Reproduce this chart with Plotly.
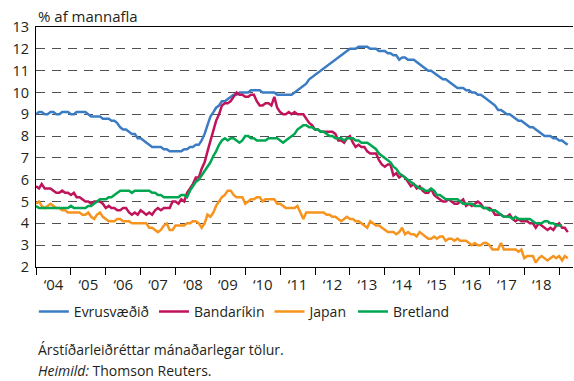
import pandas as pd
import plotly.graph_objects as go

# Monthly unemployment rates, % of labour force (seasonally adjusted)
evrusvaedid = [
    9.0, 9.1, 9.1, 9.0, 9.0, 9.1, 9.1, 9.0, 9.0, 9.1, 9.1, 9.1,      # 2004
    9.0, 9.0, 9.1, 9.1, 9.1, 9.1, 9.0, 8.9, 8.9, 8.9, 8.9, 8.8,      # 2005
    8.8, 8.8, 8.7, 8.7, 8.6, 8.4, 8.3, 8.3, 8.2, 8.1, 8.1, 7.9,      # 2006
    7.9, 7.8, 7.7, 7.6, 7.5, 7.5, 7.5, 7.5, 7.4, 7.4, 7.3, 7.3,      # 2007
    7.3, 7.3, 7.3, 7.4, 7.4, 7.5, 7.5, 7.6, 7.6, 7.8, 8.1, 8.5,      # 2008
    8.9, 9.1, 9.3, 9.4, 9.6, 9.6, 9.7, 9.8, 9.9, 9.9, 10.0, 10.0,    # 2009
    10.0, 10.0, 10.1, 10.1, 10.1, 10.1, 10.0, 10.0, 10.0, 10.0, 10.0, 9.9,  # 2010
    9.9, 9.9, 9.9, 9.9, 9.9, 10.0, 10.1, 10.2, 10.3, 10.4, 10.6, 10.7,      # 2011
    10.8, 10.9, 11.0, 11.1, 11.2, 11.3, 11.4, 11.5, 11.6, 11.7, 11.8, 11.9, # 2012
    12.0, 12.0, 12.0, 12.1, 12.1, 12.1, 12.1, 12.0, 12.0, 12.0, 11.9, 11.9, # 2013
    11.9, 11.8, 11.8, 11.7, 11.7, 11.5, 11.6, 11.6, 11.5, 11.5, 11.5, 11.4, # 2014
    11.3, 11.2, 11.1, 11.0, 11.0, 10.9, 10.8, 10.7, 10.6, 10.6, 10.5, 10.4, # 2015
    10.3, 10.2, 10.2, 10.2, 10.1, 10.1, 10.0, 10.0, 9.9, 9.9, 9.8, 9.7,     # 2016
    9.6, 9.5, 9.4, 9.2, 9.2, 9.1, 9.0, 9.0, 8.9, 8.8, 8.7, 8.7,      # 2017
    8.6, 8.5, 8.4, 8.4, 8.3, 8.2, 8.1, 8.0, 8.0, 8.0, 7.9, 7.9,      # 2018
    7.8, 7.8, 7.7, 7.6,                                              # 2019
]

bandarikin = [
    5.7, 5.6, 5.8, 5.6, 5.6, 5.6, 5.5, 5.4, 5.4, 5.5, 5.4, 5.4,
    5.3, 5.4, 5.2, 5.2, 5.1, 5.0, 5.0, 4.9, 5.0, 5.0, 5.0, 4.9,
    4.7, 4.8, 4.7, 4.7, 4.6, 4.6, 4.7, 4.7, 4.5, 4.4, 4.5, 4.4,
    4.6, 4.5, 4.4, 4.5, 4.4, 4.6, 4.7, 4.6, 4.7, 4.7, 4.7, 5.0,
    5.0, 4.9, 5.1, 5.0, 5.4, 5.6, 5.8, 6.1, 6.1, 6.5, 6.8, 7.3,
    7.8, 8.3, 8.7, 9.0, 9.4, 9.5, 9.5, 9.6, 9.8, 10.0, 9.9, 9.9,
    9.8, 9.8, 9.9, 9.9, 9.6, 9.4, 9.4, 9.5, 9.5, 9.4, 9.8, 9.3,
    9.1, 9.0, 9.0, 9.1, 9.0, 9.1, 9.0, 9.0, 9.0, 8.8, 8.6, 8.5,
    8.3, 8.3, 8.2, 8.2, 8.2, 8.2, 8.2, 8.1, 7.8, 7.8, 7.7, 7.9,
    8.0, 7.7, 7.5, 7.6, 7.5, 7.5, 7.3, 7.2, 7.2, 7.2, 6.9, 6.7,
    6.6, 6.7, 6.7, 6.2, 6.3, 6.1, 6.2, 6.1, 5.9, 5.7, 5.8, 5.6,
    5.7, 5.5, 5.4, 5.4, 5.6, 5.3, 5.2, 5.1, 5.0, 5.0, 5.1, 5.0,
    4.9, 4.9, 5.0, 5.1, 4.8, 4.9, 4.8, 4.9, 5.0, 4.9, 4.7, 4.7,
    4.7, 4.6, 4.4, 4.4, 4.4, 4.3, 4.3, 4.4, 4.2, 4.1, 4.2, 4.1,
    4.1, 4.1, 4.0, 4.0, 3.8, 4.0, 3.9, 3.8, 3.7, 3.8, 3.7, 3.9,
    4.0, 3.8, 3.8, 3.6,
]

japan = [
    4.9, 5.0, 4.8, 4.7, 4.8, 4.9, 4.8, 4.7, 4.7, 4.6, 4.6, 4.5,
    4.5, 4.5, 4.5, 4.5, 4.4, 4.4, 4.5, 4.3, 4.2, 4.4, 4.5, 4.3,
    4.2, 4.1, 4.1, 4.1, 4.2, 4.2, 4.1, 4.1, 4.1, 4.0, 4.0, 4.0,
    4.0, 4.0, 4.0, 3.8, 3.8, 3.7, 3.6, 3.7, 3.9, 4.0, 3.7, 3.7,
    3.9, 3.9, 3.9, 3.9, 4.0, 4.0, 4.1, 4.1, 4.0, 3.8, 4.0, 4.4,
    4.3, 4.5, 4.8, 5.0, 5.2, 5.3, 5.5, 5.5, 5.3, 5.2, 5.2, 5.2,
    4.9, 5.0, 5.1, 5.1, 5.2, 5.2, 5.0, 5.1, 5.1, 5.1, 5.1, 4.9,
    4.9, 4.8, 4.7, 4.7, 4.7, 4.7, 4.8, 4.5, 4.2, 4.5, 4.5, 4.5,
    4.5, 4.5, 4.5, 4.5, 4.4, 4.4, 4.3, 4.3, 4.2, 4.1, 4.2, 4.3,
    4.2, 4.2, 4.1, 4.1, 4.0, 3.9, 3.8, 4.1, 4.0, 3.9, 3.9, 3.8,
    3.7, 3.6, 3.6, 3.6, 3.5, 3.6, 3.8, 3.5, 3.6, 3.5, 3.5, 3.4,
    3.6, 3.5, 3.4, 3.3, 3.3, 3.4, 3.3, 3.4, 3.4, 3.2, 3.3, 3.3,
    3.2, 3.3, 3.2, 3.2, 3.2, 3.1, 3.0, 3.1, 3.0, 3.0, 3.1, 3.1,
    3.0, 2.8, 2.8, 2.8, 3.1, 2.8, 2.8, 2.8, 2.8, 2.8, 2.7, 2.8,
    2.4, 2.5, 2.5, 2.5, 2.2, 2.4, 2.5, 2.4, 2.3, 2.4, 2.5, 2.4,
    2.5, 2.3, 2.5, 2.4,
]

bretland = [
    4.8, 4.7, 4.7, 4.7, 4.7, 4.7, 4.7, 4.7, 4.7, 4.7, 4.7, 4.7,
    4.8, 4.7, 4.7, 4.7, 4.7, 4.7, 4.8, 4.8, 4.9, 5.0, 5.1, 5.1,
    5.1, 5.2, 5.2, 5.3, 5.4, 5.5, 5.5, 5.5, 5.5, 5.4, 5.5, 5.5,
    5.5, 5.5, 5.5, 5.5, 5.4, 5.4, 5.3, 5.3, 5.2, 5.2, 5.2, 5.2,
    5.2, 5.2, 5.3, 5.3, 5.2, 5.5, 5.7, 5.9, 6.0, 6.2, 6.4, 6.6,
    6.8, 7.1, 7.3, 7.6, 7.8, 7.9, 7.8, 7.9, 7.9, 7.8, 7.7, 7.8,
    8.0, 8.0, 7.9, 7.9, 7.8, 7.8, 7.8, 7.8, 7.9, 7.9, 7.9, 7.9,
    7.8, 7.7, 7.8, 7.9, 8.0, 8.1, 8.3, 8.4, 8.5, 8.5, 8.4, 8.4,
    8.3, 8.3, 8.2, 8.2, 8.1, 8.0, 8.0, 7.9, 7.9, 7.9, 7.8, 7.9,
    7.9, 7.9, 7.8, 7.8, 7.7, 7.7, 7.7, 7.6, 7.5, 7.4, 7.2, 7.1,
    7.0, 6.9, 6.8, 6.6, 6.5, 6.3, 6.2, 6.1, 6.0, 5.9, 5.8, 5.7,
    5.6, 5.6, 5.5, 5.5, 5.6, 5.5, 5.3, 5.3, 5.2, 5.1, 5.1, 5.1,
    5.1, 5.1, 5.0, 4.9, 4.9, 4.9, 4.9, 4.8, 4.8, 4.8, 4.7, 4.7,
    4.6, 4.6, 4.6, 4.5, 4.4, 4.3, 4.3, 4.3, 4.2, 4.3, 4.2, 4.2,
    4.2, 4.2, 4.2, 4.1, 4.0, 4.0, 4.0, 4.1, 4.1, 4.0, 4.0, 3.9,
    3.9, 3.9,
]

series_names = ["Evrusvæðið", "Bandaríkin", "Japan", "Bretland"]
series_values = [evrusvaedid, bandarikin, japan, bretland]
series_colors = ["#3b7cc4", "#c0135a", "#f7941d", "#00a650"]

FONT = "Open Sans"
TEXT = "#231f20"

fig = go.Figure()
for name, vals, col in zip(series_names, series_values, series_colors):
    dates = pd.date_range("2004-01-01", periods=len(vals), freq="MS")
    fig.add_trace(go.Scatter(
        x=dates, y=vals, name=name, mode="lines",
        line=dict(color=col, width=2.5),
    ))

fig.update_layout(
    width=574, height=381,
    margin=dict(l=36, r=1, t=27, b=114),
    plot_bgcolor="white", paper_bgcolor="white",
    font=dict(family=FONT, size=14, color=TEXT),
    showlegend=True,
    legend=dict(
        orientation="h", x=-0.004, xanchor="left", y=-0.12, yanchor="top",
        font=dict(size=14, color=TEXT), itemwidth=30, tracegroupgap=0,
        bgcolor="rgba(0,0,0,0)",
    ),
)

# Yearly ticks at each January, with the two-digit year centred on its year
fig.update_xaxes(
    type="date",
    range=["2004-01-01", "2019-05-26"],
    tickmode="linear", tick0="2004-01-01", dtick="M12",
    tickformat="‘%y", ticklabelmode="period",
    ticks="outside", ticklen=7, tickwidth=1, tickcolor="black",
    ticklabelstandoff=-3,
    showline=True, linecolor="black", linewidth=1, mirror=True,
    showgrid=False, zeroline=False,
    tickfont=dict(size=15, color=TEXT),
)

fig.update_yaxes(
    range=[2, 13], dtick=1, tick0=2,
    showline=True, linecolor="black", linewidth=1,
    ticks="", showgrid=True, gridcolor="#505050", gridwidth=1,
    griddash="9px,7px", zeroline=False,
    ticklabelstandoff=3,
    tickfont=dict(size=14.5, color=TEXT),
)

fig.add_annotation(
    text="% af mannafla", xref="paper", yref="paper",
    x=0.0, y=1.045, xanchor="left", yanchor="middle",
    showarrow=False, font=dict(size=15, color=TEXT),
)
fig.add_annotation(
    text="Árstíðarleiðréttar mánaðarlegar tölur.", xref="paper", yref="paper",
    x=0.0, y=-0.342, xanchor="left", yanchor="middle",
    showarrow=False, font=dict(size=14, color=TEXT),
)
fig.add_annotation(
    text="<i>Heimild:</i> Thomson Reuters.", xref="paper", yref="paper",
    x=0.0, y=-0.43, xanchor="left", yanchor="middle",
    showarrow=False, font=dict(size=14, color=TEXT),
)

fig.write_html("out.html")
